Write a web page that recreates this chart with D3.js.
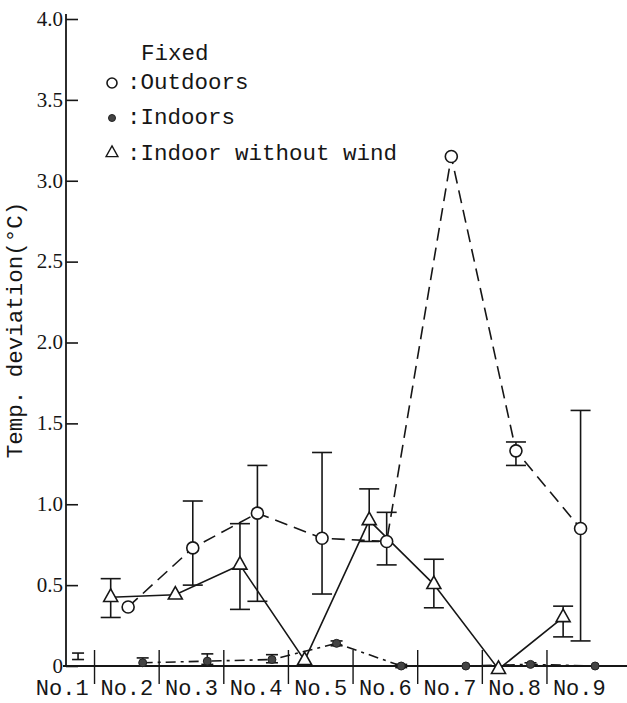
<!DOCTYPE html>
<html><head><meta charset="utf-8">
<script src="https://cdn.jsdelivr.net/npm/d3@7"></script>
<style>html,body{margin:0;padding:0;background:#fff;}svg{display:block;}</style>
</head><body>
<script>
const categories = ["No.1","No.2","No.3","No.4","No.5","No.6","No.7","No.8","No.9"];
const yTicks = [0,0.5,1.0,1.5,2.0,2.5,3.0,3.5,4.0];
const yTickLabels = ["0","0.5","1.0","1.5","2.0","2.5","3.0","3.5","4.0"];
const legendTitle = "Fixed";
const legendLabels = [":Outdoors", ":Indoors", ":Indoor without wind"];
const yTitle = "Temp. deviation(\u00B0C)";

const outdoors      = [null, 0.365, 0.73, 0.945, 0.79, 0.77, 3.15, 1.33, 0.85];
const outdoorsLow   = [null, null,  0.50, 0.40,  0.445, 0.625, null, 1.24, 0.155];
const outdoorsHigh  = [null, null,  1.02, 1.24,  1.32, 0.95,  null, 1.385, 1.58];

const indoors       = [null, 0.02, 0.03, 0.04, 0.14, 0.0, 0.0, 0.01, 0.0];
const indoorsLow    = [0.04, 0.0,  0.01, 0.02, 0.125, -0.01, null, 0.0, null];
const indoorsHigh   = [0.08, 0.05, 0.075, 0.07, 0.155, 0.01, null, 0.02, null];

const noWind        = [null, 0.425, 0.44, 0.625, 0.035, 0.90, 0.505, -0.02, 0.30];
const noWindLow     = [null, 0.30,  null, 0.35,  null,  0.77, 0.36,  null,  0.18];
const noWindHigh    = [null, 0.54,  null, 0.88,  null,  1.095, 0.66, null,  0.37];

const W = 627, H = 703;
const ink = "#161616";
const svg = d3.select("body").append("svg").attr("width", W).attr("height", H);

const x = d3.scaleBand().domain(categories).range([29.9, 611.6]).paddingInner(0).paddingOuter(0);
const y = d3.scaleLinear().domain([0, 4]).range([666, 19]);
const axisX = 66;

// Y axis
const yAxis = d3.axisLeft(y).tickValues(yTicks)
  .tickFormat((d, i) => yTickLabels[i]).tickSizeInner(-12).tickSizeOuter(0).tickPadding(3);
const gy = svg.append("g").attr("transform", `translate(${axisX},0)`).call(yAxis);
gy.select(".domain").remove();
gy.selectAll(".tick line").attr("stroke", ink).attr("stroke-width", 1.6);
gy.selectAll(".tick text").attr("fill", ink).attr("dy", "0.3em")
  .style("font-family", "'Liberation Serif', serif").style("font-size", "21px");
svg.append("line").attr("x1", axisX).attr("x2", axisX).attr("y1", 14).attr("y2", y(0))
  .attr("stroke", ink).attr("stroke-width", 1.8);

// X axis
svg.append("line").attr("x1", axisX - 3).attr("x2", W).attr("y1", y(0)).attr("y2", y(0))
  .attr("stroke", ink).attr("stroke-width", 1.8);
svg.append("g").selectAll("line").data(categories.slice(1)).join("line")
  .attr("x1", d => x(d)).attr("x2", d => x(d)).attr("y1", 650).attr("y2", 684)
  .attr("stroke", ink).attr("stroke-width", 1.4);
svg.append("g").selectAll("text").data(categories).join("text")
  .attr("x", d => x(d) + x.bandwidth() / 2).attr("y", 695)
  .attr("text-anchor", "middle").attr("fill", ink)
  .style("font-family", "'Liberation Mono', 'Courier New', monospace").style("font-size", "22px")
  .text(d => d);

// Y title
svg.append("text").attr("transform", "translate(22,330) rotate(-90)")
  .attr("text-anchor", "middle").attr("fill", ink)
  .style("font-family", "'Liberation Mono', 'Courier New', monospace").style("font-size", "22.5px")
  .text(yTitle);

// helpers
const offTri = 0.25, offCirc = 0.52, offDot = 0.745;
const px = (i, off) => x(categories[i]) + x.bandwidth() * off;
function pts(vals, off) {
  return vals.map((v, i) => v == null ? null : [px(i, off), y(v)]).filter(p => p);
}
const line = d3.line();
const triPath = "M0,-8.3L7,4.2L-7,4.2Z";

// lines
svg.append("path").attr("d", line(pts(noWind, offTri))).attr("fill", "none")
  .attr("stroke", ink).attr("stroke-width", 1.6);
svg.append("path").attr("d", line(pts(outdoors, offCirc))).attr("fill", "none")
  .attr("stroke", ink).attr("stroke-width", 1.6).attr("stroke-dasharray", "13,7");
svg.append("path").attr("d", line(pts(indoors, offDot))).attr("fill", "none")
  .attr("stroke", ink).attr("stroke-width", 1.6).attr("stroke-dasharray", "10,5,3,5");

// error bars
function errBars(lo, hi, off, cap) {
  const g = svg.append("g").attr("stroke", ink).attr("stroke-width", 1.6);
  lo.forEach((l, i) => {
    const h = hi[i];
    if (l == null || h == null) return;
    const cx = px(i, off);
    g.append("line").attr("x1", cx).attr("x2", cx).attr("y1", y(l)).attr("y2", y(h));
    g.append("line").attr("x1", cx - cap).attr("x2", cx + cap).attr("y1", y(l)).attr("y2", y(l));
    g.append("line").attr("x1", cx - cap).attr("x2", cx + cap).attr("y1", y(h)).attr("y2", y(h));
  });
}
errBars(outdoorsLow, outdoorsHigh, offCirc, 10);
errBars(noWindLow, noWindHigh, offTri, 10);
errBars(indoorsLow, indoorsHigh, offDot, 6);

// markers
svg.append("g").selectAll("path").data(pts(noWind, offTri)).join("path")
  .attr("d", triPath).attr("transform", d => `translate(${d[0]},${d[1]})`)
  .attr("fill", "#fff").attr("stroke", ink).attr("stroke-width", 1.6);
svg.append("g").selectAll("circle").data(pts(outdoors, offCirc)).join("circle")
  .attr("cx", d => d[0]).attr("cy", d => d[1]).attr("r", 6)
  .attr("fill", "#fff").attr("stroke", ink).attr("stroke-width", 1.6);
svg.append("g").selectAll("circle").data(pts(indoors, offDot)).join("circle")
  .attr("cx", d => d[0]).attr("cy", d => d[1]).attr("r", 4)
  .attr("fill", "#444").attr("stroke", "#222").attr("stroke-width", 1);

// legend
const lg = svg.append("g").attr("fill", ink)
  .style("font-family", "'Liberation Mono', 'Courier New', monospace").style("font-size", "22.5px");
lg.append("text").attr("x", 141).attr("y", 60).text(legendTitle);
const legY = [89, 124, 160];
legendLabels.forEach((t, i) => {
  lg.append("text").attr("x", 127).attr("y", legY[i]).text(t);
});
svg.append("circle").attr("cx", 112).attr("cy", 83).attr("r", 5)
  .attr("fill", "#fff").attr("stroke", ink).attr("stroke-width", 1.6);
svg.append("circle").attr("cx", 112).attr("cy", 118).attr("r", 3.5)
  .attr("fill", "#444").attr("stroke", "#222").attr("stroke-width", 1);
svg.append("path").attr("d", triPath).attr("transform", "translate(112,153) scale(0.85)")
  .attr("fill", "#fff").attr("stroke", ink).attr("stroke-width", 1.6);
</script>
</body></html>
